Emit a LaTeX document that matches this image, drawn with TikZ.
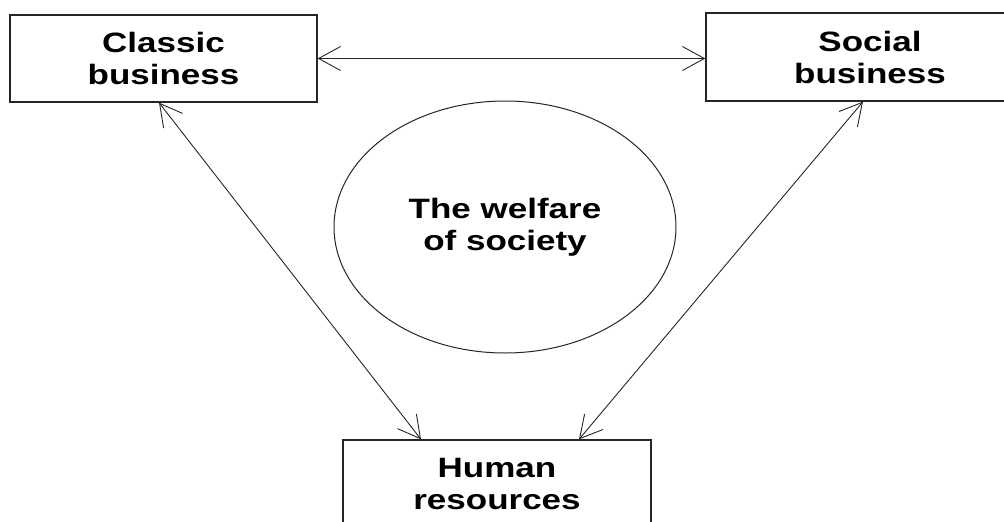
\documentclass[tikz,border=0pt]{standalone}
\usepackage{fontspec}
\newfontfamily\labfont{Liberation Sans}[FakeStretch=1.25]
\usetikzlibrary{arrows.meta,shapes.geometric,calc}
\begin{document}
\begin{tikzpicture}[x=1pt,y=-1pt,
  lbl/.style={font=\labfont\bfseries\fontsize{28}{32}\selectfont,align=center,text=black},
  box/.style={lbl,draw=black!85,line width=1.3pt,rectangle,inner sep=0pt},
  hub/.style={lbl,draw=black!85,line width=1pt,ellipse,inner sep=0pt,
    minimum width=342pt,minimum height=252pt},
  link/.style={draw=black!85,line width=0.9pt,
    {Straight Barb[length=22pt,width=24pt,line width=0.9pt]}-{Straight Barb[length=22pt,width=24pt,line width=0.9pt]}}]
  \clip (0,0) rectangle (1004,522);
  \fill[white] (0,0) rectangle (1004,522);

  % three sectors and the shared goal in the middle
  \node[box,minimum width=307pt,minimum height=87pt] (classic) at (163.5,58.5) {Classic\\business};
  \node[box,minimum width=328pt,minimum height=88pt] (social) at (870,57) {Social\\business};
  \node[box,minimum width=308pt,minimum height=88pt] (human) at (497,484) {Human\\resources};
  \node[hub] (welfare) at (505,227) {The welfare\\of society};

  % two-way relations between the sectors
  \draw[link] (classic.east) -- (classic.east -| social.west);
  \draw[link] ([xshift=-4.5pt]classic.south) -- ([xshift=-76pt]human.north);
  \draw[link] ([xshift=-7pt]social.south) -- ([xshift=82pt]human.north);
\end{tikzpicture}
\end{document}
